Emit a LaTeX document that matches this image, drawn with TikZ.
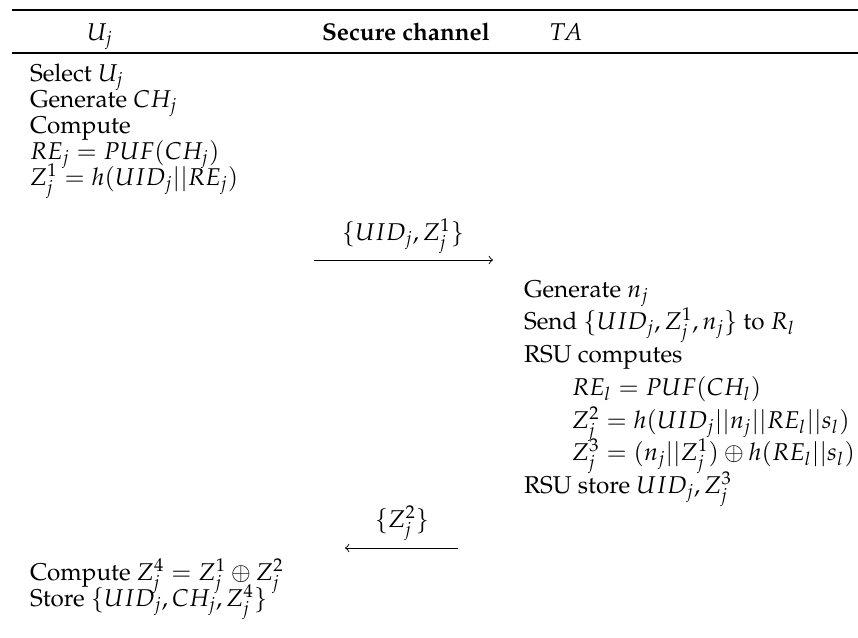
\documentclass[tikz,border=0pt]{standalone}
\usepackage[T1]{fontenc}
\usepackage{mathpazo}
\begin{document}
\begin{tikzpicture}[x=0.42pt,y=-0.42pt,
  every node/.style={inner sep=0pt,outer sep=0pt,font=\fontsize{10.2}{12.5}\selectfont},
  txt/.style={anchor=base west},
  head/.style={anchor=base},
  lbl/.style={anchor=base},
  toprule/.style={line width=0.85pt},
  midrule/.style={line width=0.5pt},
  msg/.style={line width=0.4pt,->}]
\useasboundingbox (0,0) rectangle (858,637);

% table rules
\coordinate (rtl) at (12,10);  \coordinate (rtr) at (858,10);
\coordinate (rml) at (12,53);  \coordinate (rmr) at (858,53);
\draw[toprule] (rtl) -- (rtr);
\draw[midrule] (rml) -- (rmr);

% header
\node[head] (hU)  at (100,40) {$U_j$};
\node[head] (hSC) at (406,40) {\textbf{Secure channel}};
\node[head] (hTA) at (566,40) {$TA$};

% user side, registration request
\node[txt] (u1) at (30,81)  {Select $U_j$};
\node[txt] (u2) at (30,107) {Generate $CH_j$};
\node[txt] (u3) at (30,133) {Compute};
\node[txt] (u4) at (30,159) {$RE_j = PUF(CH_j)$};
\node[txt] (u5) at (30,185) {$Z_j^1 = h(UID_j||RE_j)$};

% message to TA
\node[lbl] (m1) at (403,240) {$\{UID_j, Z_j^1\}$};
\coordinate (m1s) at (314,260);
\coordinate (m1e) at (493,260);
\draw[msg] (m1s) -- (m1e);

% TA side
\node[txt] (t1) at (524,297) {Generate $n_j$};
\node[txt] (t2) at (524,329) {Send $\{UID_j, Z_j^1, n_j\}$ to $R_l$};
\node[txt] (t3) at (524,362) {RSU computes};
\node[txt] (t4) at (572,395) {$RE_l = PUF(CH_l)$};
\node[txt] (t5) at (572,428) {$Z_j^2 = h(UID_j||n_j||RE_l||s_l)$};
\node[txt] (t6) at (572,460) {$Z_j^3 = (n_j||Z_j^1) \oplus h(RE_l||s_l)$};
\node[txt] (t7) at (524,493) {RSU store $UID_j, Z_j^3$};

% reply to user
\node[lbl] (m2) at (402,527) {$\{Z_j^2\}$};
\coordinate (m2s) at (458,548);
\coordinate (m2e) at (345,548);
\draw[msg] (m2s) -- (m2e);

% user side, final step
\node[txt] (u6) at (30,580) {Compute $Z_j^4 = Z_j^1 \oplus Z_j^2$};
\node[txt] (u7) at (30,606) {Store $\{UID_j, CH_j, Z_j^4\}$};
\end{tikzpicture}
\end{document}
